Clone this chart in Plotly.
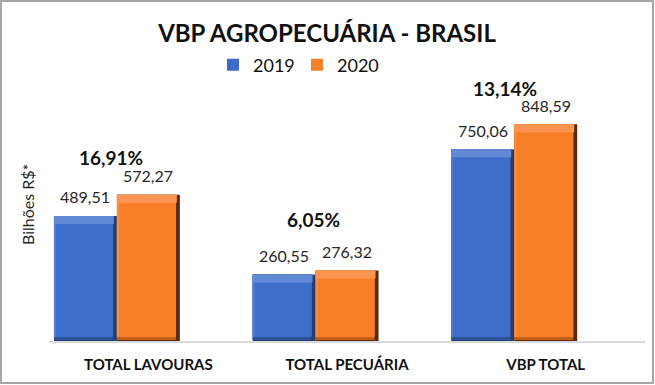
import plotly.graph_objects as go

# ---------------- data ----------------
categories = ["TOTAL LAVOURAS", "TOTAL PECUÁRIA", "VBP TOTAL"]
series_names = ["2019", "2020"]
values_2019 = [489.51, 260.55, 750.06]
values_2020 = [572.27, 276.32, 848.59]
title_text = "VBP AGROPECUÁRIA - BRASIL"
y_title = "Bilhões R$*"

# ---------------- layout geometry ----------------
W, H = 655, 385
ML, MR, MT, MB = 49, 10, 111, 44
PW = W - ML - MR
PH = H - MT - MB
Y_MAX = 900
UX = 3.0 / PW          # data units per px (x)
UY = Y_MAX / PH        # data units per px (y)

FONT = "Lato"
BAR_W = 0.3167
OFFSETS = [-0.475, -0.158]

styles = [
    dict(edge="#223f73", bottom="#2d5299", face="#3d6dc8", top="#6189d6", left="#5581d2"),
    dict(edge="#5c2a08", bottom="#c45f16", face="#f87e28", top="#fd9552", left="#fb9048"),
]

TOP_PX, RIGHT_PX, BOTTOM_PX, LEFT_PX = 8, 4, 4, 2

xs = list(range(len(categories)))
fig = go.Figure()

for name, vals, off, st in zip(series_names, [values_2019, values_2020], OFFSETS, styles):
    # dark edge (full bar)
    fig.add_trace(go.Bar(x=xs, y=vals, offset=off, width=BAR_W,
                         marker=dict(color=st["edge"], line=dict(width=0)),
                         showlegend=False, hoverinfo="skip"))
    # bottom bevel
    fig.add_trace(go.Bar(x=xs, y=[v - 1 * UY for v in vals], base=1 * UY,
                         offset=off, width=BAR_W - RIGHT_PX * UX,
                         marker=dict(color=st["bottom"], line=dict(width=0)),
                         showlegend=False, hoverinfo="skip"))
    # left light edge
    fig.add_trace(go.Bar(x=xs, y=[v - BOTTOM_PX * UY for v in vals], base=BOTTOM_PX * UY,
                         offset=off, width=BAR_W - RIGHT_PX * UX,
                         marker=dict(color=st["left"], line=dict(width=0)),
                         showlegend=False, hoverinfo="skip"))
    # face
    fig.add_trace(go.Bar(x=xs, y=[v - (TOP_PX + BOTTOM_PX) * UY for v in vals], base=BOTTOM_PX * UY,
                         offset=off + LEFT_PX * UX, width=BAR_W - (RIGHT_PX + LEFT_PX) * UX,
                         marker=dict(color=st["face"], line=dict(width=0)),
                         name=name, showlegend=True, hovertemplate="%{y:.2f}<extra></extra>"))
    # top bevel
    fig.add_trace(go.Bar(x=xs, y=[TOP_PX * UY] * len(vals), base=[v - TOP_PX * UY for v in vals],
                         offset=off, width=BAR_W - (RIGHT_PX - 1) * UX,
                         marker=dict(color=st["top"], line=dict(width=0)),
                         showlegend=False, hoverinfo="skip"))

annotations = []
fmt = lambda v: f"{v:.2f}".replace(".", ",")
for vals, off in zip([values_2019, values_2020], OFFSETS):
    for i, v in enumerate(vals):
        annotations.append(dict(x=i + off + BAR_W / 2, y=v, xref="x", yref="y",
                                text=fmt(v), showarrow=False, yanchor="middle", yshift=19,
                                font=dict(family=FONT, size=16, color="#262626")))

pct_xshift = [-6, -2, -9]
pct_yshift = [37, 51, 36]
for i, (a, b) in enumerate(zip(values_2019, values_2020)):
    pct = (b / a - 1) * 100
    annotations.append(dict(x=i + OFFSETS[1], y=b, xref="x", yref="y",
                            text=f"<b>{pct:.2f}%</b>".replace(".", ","), showarrow=False,
                            yanchor="middle", xshift=pct_xshift[i], yshift=pct_yshift[i],
                            font=dict(family=FONT, size=19, color="#111111")))

annotations.append(dict(x=(27 - ML) / PW, y=(H - MB - 205) / PH, xref="paper", yref="paper",
                        text=y_title, textangle=-90, showarrow=False,
                        xanchor="center", yanchor="middle",
                        font=dict(family=FONT, size=16, color="#262626")))

fig.update_layout(
    width=W, height=H,
    margin=dict(l=ML, r=MR, t=MT, b=MB, pad=0),
    paper_bgcolor="white", plot_bgcolor="white",
    barmode="overlay",
    title=dict(text=f"<b>{title_text}</b>", x=327 / W, xref="container", xanchor="center",
               y=1 - 34 / H, yref="container", yanchor="middle",
               font=dict(family=FONT, size=24, color="#111111")),
    legend=dict(orientation="h", x=(297 - ML) / PW, xanchor="center",
                y=(H - MB - 65) / PH, yanchor="middle",
                entrywidth=39, entrywidthmode="pixels",
                font=dict(family=FONT, size=18, color="#111111"),
                bgcolor="rgba(0,0,0,0)", itemclick=False, itemdoubleclick=False),
    xaxis=dict(range=[-0.5, 2.5], tickmode="array", tickvals=xs,
               ticktext=[f"<b>{c}</b>" for c in categories],
               tickfont=dict(family=FONT, size=15, color="#111111"),
               showgrid=False, zeroline=False, showline=True, linecolor="#d9d9d9", linewidth=2,
               ticks="", ticklabelstandoff=9, fixedrange=True),
    yaxis=dict(range=[0, Y_MAX], visible=False, showgrid=False, zeroline=False, fixedrange=True),
    annotations=annotations,
    shapes=[dict(type="rect", xref="paper", yref="paper",
                 x0=(1 - ML) / PW, x1=(653 - ML) / PW,
                 y0=(H - MB - 383) / PH, y1=(H - MB - 1) / PH,
                 line=dict(color="#a6a6a6", width=2), fillcolor="rgba(0,0,0,0)", layer="above")],
)

fig.write_html("out.html", config={"displayModeBar": False},
               post_script="document.body.style.margin='0';document.body.style.padding='0';")
